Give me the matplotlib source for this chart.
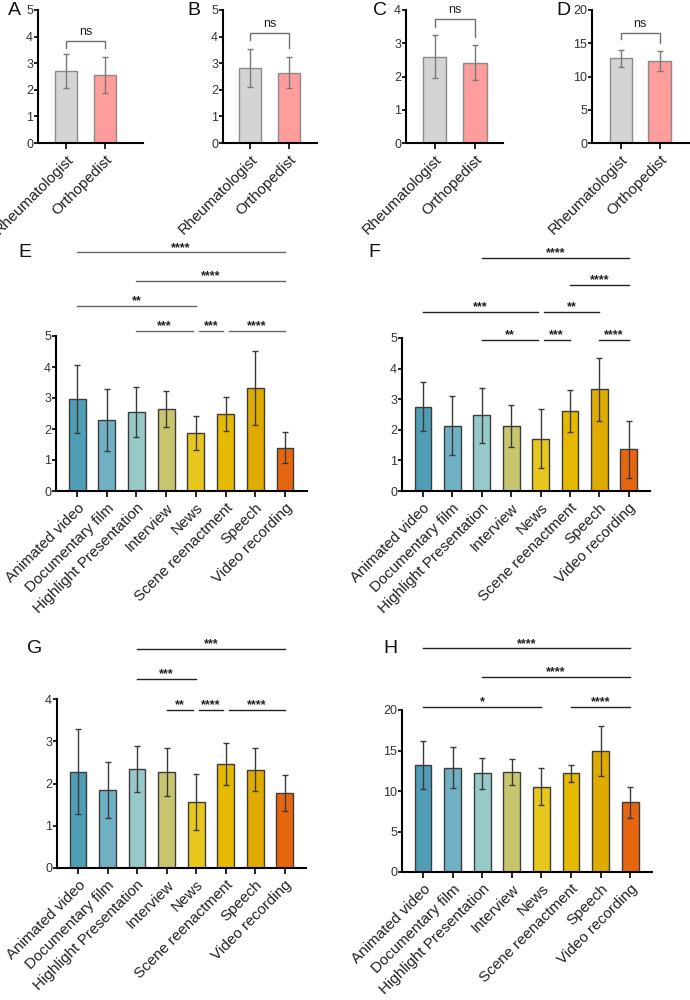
import numpy as np
import matplotlib
matplotlib.use('Agg')
import matplotlib.pyplot as plt

plt.rcParams['font.family'] = ['Liberation Sans', 'DejaVu Sans']

# top row: two groups
groups = ['Rheumatologist', 'Orthopedist']
a_mean = [2.70, 2.55]
a_err = [0.64, 0.67]
b_mean = [2.81, 2.65]
b_err = [0.71, 0.58]
c_mean = [2.60, 2.41]
c_err = [0.64, 0.53]
d_mean = [12.75, 12.35]
d_err = [1.30, 1.55]
# bracket height, left leg end, right leg end
a_ns = [3.85, 3.59, 3.59]
b_ns = [4.15, 3.86, 3.56]
c_ns = [3.73, 3.49, 3.19]
d_ns = [16.5, 15.65, 15.1]

# lower panels: video formats
formats = ['Animated video', 'Documentary film', 'Highlight Presentation', 'Interview',
           'News', 'Scene reenactment', 'Speech', 'Video recording']
e_mean = [2.98, 2.28, 2.56, 2.65, 1.87, 2.48, 3.33, 1.40]
e_err = [1.10, 1.00, 0.81, 0.58, 0.55, 0.55, 1.20, 0.50]
f_mean = [2.76, 2.13, 2.48, 2.12, 1.71, 2.61, 3.32, 1.36]
f_err = [0.79, 0.96, 0.90, 0.68, 0.96, 0.68, 1.04, 0.93]
g_mean = [2.28, 1.85, 2.34, 2.28, 1.56, 2.46, 2.33, 1.77]
g_err = [1.00, 0.66, 0.55, 0.57, 0.67, 0.50, 0.51, 0.43]
h_mean = [13.2, 12.87, 12.17, 12.34, 10.53, 12.17, 14.96, 8.60]
h_err = [3.00, 2.55, 1.90, 1.65, 2.30, 1.10, 3.05, 1.90]

e_pairs = [(0, 7), (2, 7), (0, 4), (2, 4), (4, 5), (5, 7)]
e_stars = ['****', '****', '**', '***', '***', '****']
e_level = [7.7, 6.77, 5.97, 5.16, 5.16, 5.16]
f_pairs = [(2, 7), (5, 7), (0, 4), (4, 6), (2, 4), (4, 5), (6, 7)]
f_stars = ['****', '****', '***', '**', '**', '***', '****']
f_level = [7.61, 6.73, 5.85, 5.85, 4.93, 4.93, 4.93]
g_pairs = [(2, 7), (2, 4), (3, 4), (4, 5), (5, 7)]
g_stars = ['***', '***', '**', '****', '****']
g_level = [5.18, 4.47, 3.74, 3.74, 3.74]
h_pairs = [(0, 7), (2, 7), (0, 4), (5, 7)]
h_stars = ['****', '****', '*', '****']
h_level = [27.6, 24.05, 20.4, 20.4]

grp_colors = ['#d4d4d4', '#ff9c9c']
fmt_colors = ['#509db6', '#6fb0c3', '#96c9c8', '#c8c56f', '#e8c71c', '#e6ba00', '#e0ab00', '#e6660f']

W, H = 690, 1000
fig = plt.figure(figsize=(6.9, 10), dpi=100)


def px_axes(l, t, r, b):
    return fig.add_axes([l / W, 1 - b / H, (r - l) / W, (b - t) / H])


def style(ax, labels, ylim, yticks, xlim):
    ax.set_xlim(xlim)
    ax.set_ylim(ylim)
    ax.set_yticks(yticks)
    ax.set_xticks(np.arange(len(labels)))
    ax.set_xticklabels(labels, rotation=45, ha='right', rotation_mode='anchor', fontsize=11, color='#222')
    ax.tick_params(axis='y', labelsize=9, labelcolor='#333', length=3, width=1.2, pad=0.5)
    ax.tick_params(axis='x', length=4, width=1.2, pad=3)
    for s in ['top', 'right']:
        ax.spines[s].set_visible(False)
    for s in ['left', 'bottom']:
        ax.spines[s].set_linewidth(1.5)


def bars(ax, means, errs, colors, edge, ecol, width):
    x = np.arange(len(means))
    ax.bar(x, means, width, color=colors, edgecolor=edge, linewidth=1, zorder=2)
    ax.errorbar(x, means, yerr=errs, fmt='none', ecolor=ecol, elinewidth=1, capsize=2, capthick=1, zorder=3)


def ns_bracket(ax, br):
    y, yl, yr = br
    ax.plot([0, 0, 1, 1], [yl, y, y, yr], color='#707070', lw=1, clip_on=False)
    ax.annotate('ns', (0.5, y), xytext=(0, 2), textcoords='offset points',
                ha='center', va='bottom', fontsize=9, color='#222', annotation_clip=False)


def sig_lines(ax, pairs, stars, levels, color):
    for k, ((i, j), s, y) in enumerate(zip(pairs, stars, levels)):
        x0, x1 = i, j
        for m, ((p, q), yy) in enumerate(zip(pairs, levels)):
            if m == k or yy != y:
                continue
            if i in (p, q):
                x0 = i + 0.1
            if j in (p, q):
                x1 = j - 0.1
        ax.plot([x0, x1], [y, y], color=color, lw=1, clip_on=False)
        ax.annotate(s, ((x0 + x1) / 2, y), xytext=(0, -1), textcoords='offset points',
                    ha='center', va='bottom', fontsize=9, fontweight='bold', color='#222',
                    annotation_clip=False)


# top row
top = [
    (38, 143, a_mean, a_err, a_ns, (0, 5), range(6), (-0.74, 2.0)),
    (223, 317, b_mean, b_err, b_ns, (0, 5), range(6), (-0.70, 1.72)),
    (406, 503, c_mean, c_err, c_ns, (0, 4), range(5), (-0.72, 1.70)),
    (592, 689, d_mean, d_err, d_ns, (0, 20), range(0, 21, 5), (-0.74, 1.75)),
]
for l, r, m, e, br, yl, yt, xl in top:
    ax = px_axes(l, 10, r, 143)
    bars(ax, m, e, grp_colors, '#8a8a8a', '#7a7a7a', 0.58)
    style(ax, groups, yl, list(yt), xl)
    ns_bracket(ax, br)

# E
ax = px_axes(56, 336, 307, 491)
bars(ax, e_mean, e_err, fmt_colors, '#3c3c3c', '#3a3a3a', 0.57)
style(ax, formats, (0, 5), range(6), (-0.71, 7.74))
sig_lines(ax, e_pairs, e_stars, e_level, '#666')

# F
ax = px_axes(402, 338, 650, 491)
bars(ax, f_mean, f_err, fmt_colors, '#3c3c3c', '#3a3a3a', 0.57)
style(ax, formats, (0, 5), range(6), (-0.71, 7.72))
sig_lines(ax, f_pairs, f_stars, f_level, '#222')

# G
ax = px_axes(57, 699, 306, 868)
bars(ax, g_mean, g_err, fmt_colors, '#3c3c3c', '#3a3a3a', 0.57)
style(ax, formats, (0, 4), range(5), (-0.71, 7.72))
sig_lines(ax, g_pairs, g_stars, g_level, '#222')

# H
ax = px_axes(402, 710, 652, 872)
bars(ax, h_mean, h_err, fmt_colors, '#3c3c3c', '#3a3a3a', 0.57)
style(ax, formats, (0, 20), range(0, 21, 5), (-0.71, 7.74))
sig_lines(ax, h_pairs, h_stars, h_level, '#222')

for lab, x, y in [('A', 8, 15), ('B', 187, 15), ('C', 373, 15), ('D', 556, 15),
                  ('E', 18, 257), ('F', 368, 257), ('G', 27, 653), ('H', 383, 653)]:
    fig.text(x / W, 1 - y / H, lab, fontsize=14, ha='left', va='baseline', color='#111')

fig.savefig('out.png', dpi=100)
